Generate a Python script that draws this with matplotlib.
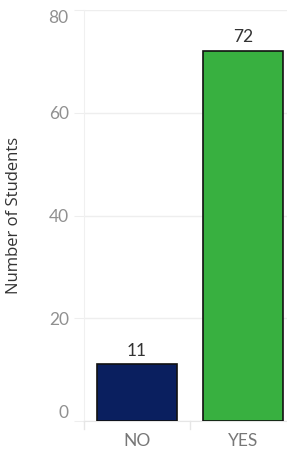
import matplotlib
matplotlib.use("Agg")
import matplotlib.pyplot as plt

plt.rcParams['font.family'] = ['Lato', 'DejaVu Sans']

categories = ["NO", "YES"]
counts = [11, 72]
colors = ["#0a1f5f", "#38b040"]
y_ticks = [0, 20, 40, 60, 80]

fig = plt.figure(figsize=(2.87, 4.51), dpi=100)
ax = fig.add_axes([84 / 287, 30 / 451, 203 / 287, 411 / 451])

x = list(range(len(categories)))
bars = ax.bar(x, counts, width=0.755, color=colors, edgecolor="#111111",
              linewidth=1.2, zorder=3)
for xi, c in zip(x, counts):
    ax.text(xi, c + 1.7, str(c), ha="center", va="baseline", fontsize=12.5,
            color="#333333")

ax.set_xlim(-0.5, 1.415)
ax.set_ylim(0, 80)
ax.set_yticks(y_ticks)
ax.set_yticklabels([str(t) for t in y_ticks])
ax.set_xticks(x)
ax.set_xticklabels(categories)
ax.tick_params(axis="y", length=7, color="#eeeeee", labelcolor="#909090",
               labelsize=12.5, pad=4)
ax.tick_params(axis="x", length=0, labelcolor="#777777", labelsize=12.5, pad=9)
# Tableau keeps the end labels inside the axis range
ticklabels = ax.get_yticklabels()
ticklabels[0].set_va("bottom")
ticklabels[-1].set_va("top")
ax.grid(axis="y", color="#eeeeee", linewidth=1, zorder=0)
ax.set_axisbelow(True)

for s in ["top", "right"]:
    ax.spines[s].set_visible(False)
ax.spines["left"].set_color("#f0f0f0")
ax.spines["bottom"].set_color("#e6e6e6")

# category separator ticks below the axis
for xs in [-0.5, 0.5]:
    ax.plot([xs, xs], [0, -1.6], color="#e6e6e6", lw=1, clip_on=False)

ax.set_ylabel("Number of Students", fontsize=12, color="#333333",
              family=["Open Sans", "DejaVu Sans"])
ax.yaxis.set_label_coords(-62 / 203, 0.5)

fig.savefig("out.png", dpi=100)
